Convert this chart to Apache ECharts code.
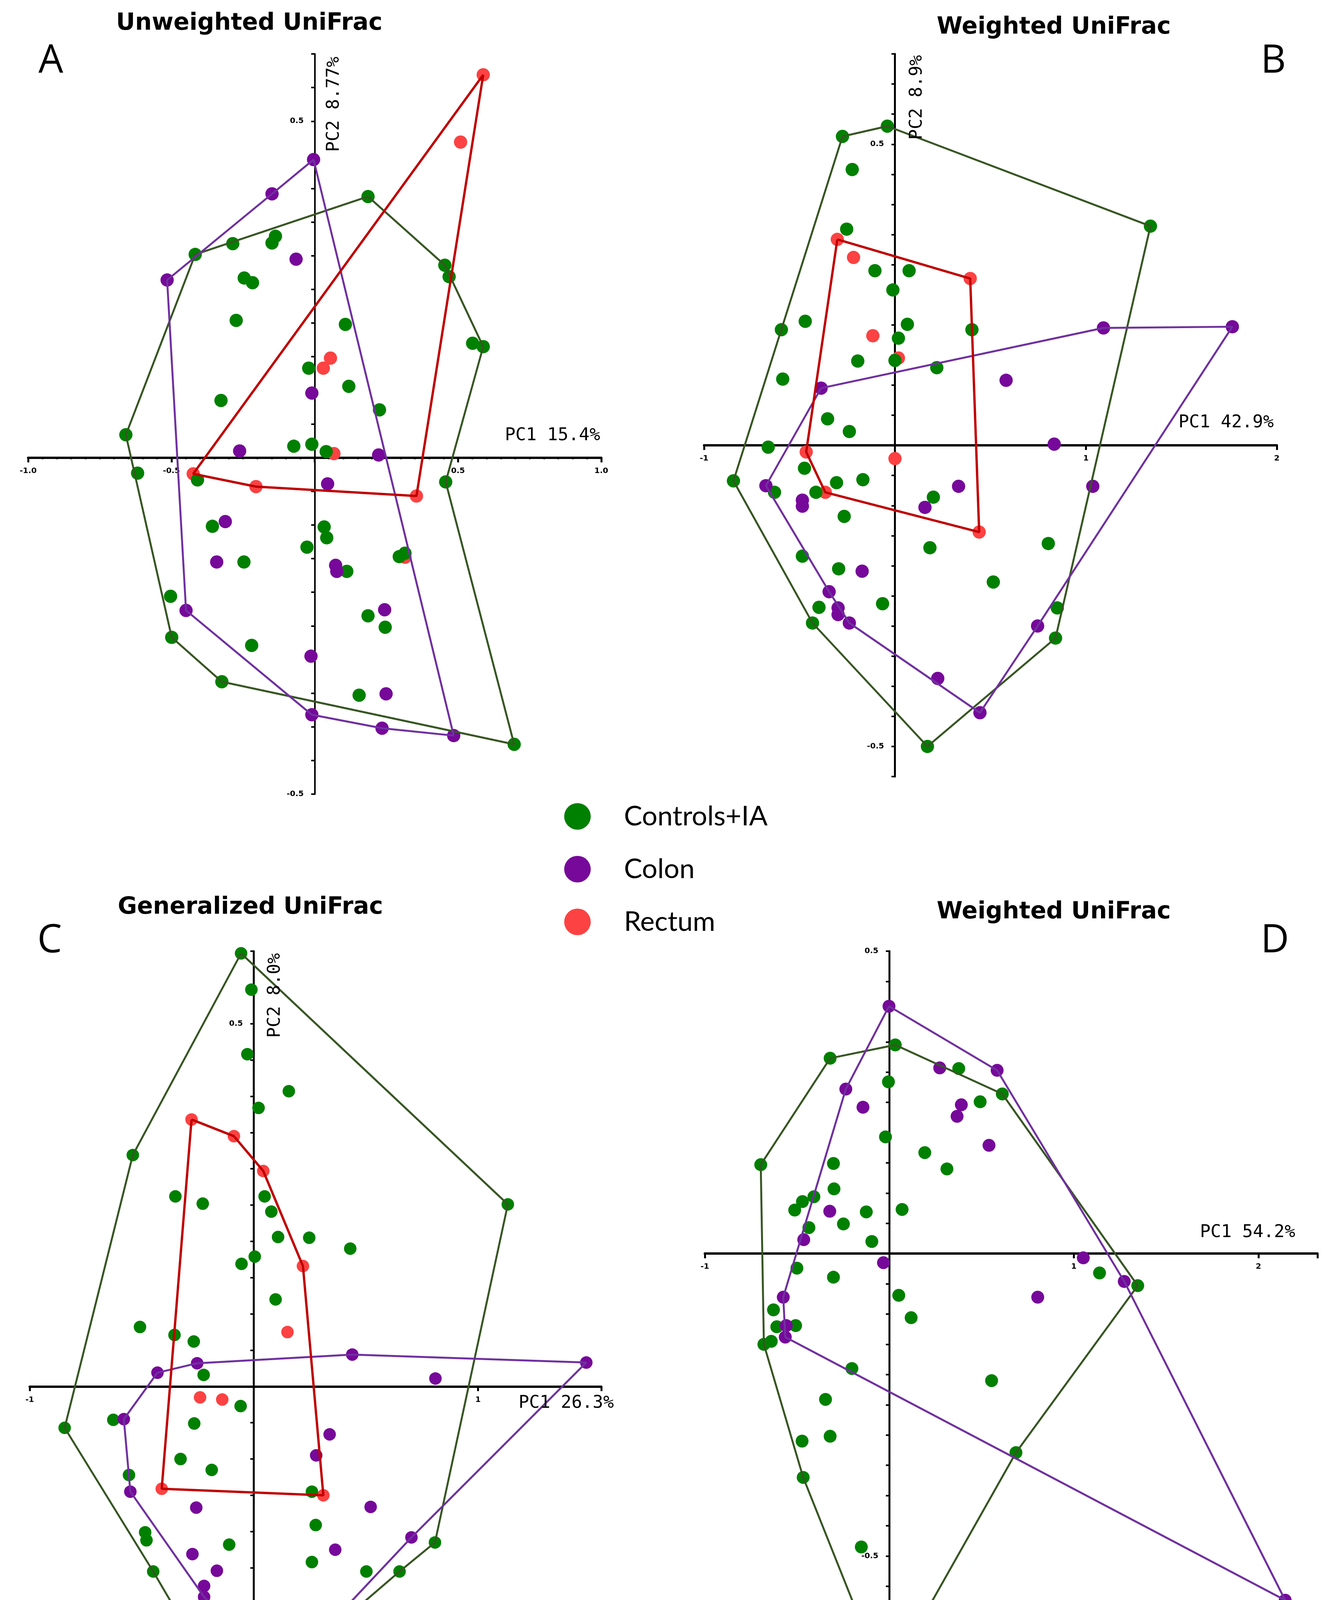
<!DOCTYPE html>
<html><head><meta charset="utf-8">
<script src="https://cdn.jsdelivr.net/npm/echarts@6/dist/echarts.min.js"></script>
<style>html,body{margin:0;padding:0;background:#fff}#chart{width:3422px;height:4547px}</style>
</head><body><div id="chart"></div>
<script>
// ---------- data ----------
const groups = ['Controls+IA', 'Colon', 'Rectum'];
const pointColors = ['#008000', '#76089A', '#FC4242'];
const hullColors = ['#375623', '#7030A0', '#C00000'];

// Panel A : Unweighted UniFrac  (PC1 15.4%, PC2 8.77%)
const A_green = [[0.186,0.388],[0.454,0.286],[0.469,0.269],[0.551,0.170],[0.588,0.165],[-0.417,0.302],[-0.286,0.318],[-0.149,0.319],[-0.137,0.329],[-0.246,0.267],[-0.217,0.260],[-0.274,0.204],[0.107,0.198],[-0.021,0.133],[0.119,0.106],[-0.327,0.085],[0.226,0.071],[-0.659,0.034],[-0.073,0.017],[-0.010,0.020],[0.040,0.009],[-0.618,-0.023],[-0.409,-0.033],[0.457,-0.036],[-0.357,-0.102],[0.033,-0.103],[0.042,-0.119],[-0.027,-0.133],[-0.247,-0.155],[0.295,-0.147],[0.315,-0.142],[0.112,-0.169],[-0.503,-0.206],[-0.499,-0.267],[0.186,-0.235],[0.246,-0.252],[-0.220,-0.279],[-0.324,-0.333],[0.155,-0.353],[0.696,-0.426]];
const A_purple = [[-0.004,0.443],[-0.149,0.392],[-0.515,0.264],[-0.065,0.295],[-0.010,0.096],[-0.262,0.010],[0.223,0.004],[0.045,-0.039],[-0.312,-0.095],[-0.342,-0.155],[0.073,-0.160],[0.077,-0.169],[-0.449,-0.227],[0.244,-0.226],[-0.013,-0.295],[0.249,-0.351],[-0.010,-0.382],[0.235,-0.402],[0.485,-0.413]];
const A_red = [[0.588,0.569],[0.509,0.469],[0.055,0.148],[0.030,0.133],[0.067,0.006],[-0.424,-0.024],[-0.205,-0.043],[0.355,-0.057],[0.315,-0.148]];
const A_greenHull = [0,1,4,23,39,37,33,17,5,0];
const A_purpleHull = [0,1,2,12,16,17,18,0];
const A_redHull = [0,7,6,5,0];

// Panel B : Weighted UniFrac (PC1 42.9%, PC2 8.9%)
const B_green = [[-0.040,0.530],[-0.275,0.513],[-0.224,0.458],[1.338,0.364],[-0.253,0.359],[-0.105,0.290],[0.074,0.290],[-0.011,0.258],[-0.470,0.206],[-0.595,0.192],[0.065,0.201],[0.018,0.178],[0.403,0.192],[-0.195,0.140],[0.000,0.141],[0.219,0.129],[-0.588,0.110],[-0.353,0.044],[-0.239,0.023],[-0.664,-0.003],[-0.846,-0.059],[-0.474,-0.038],[-0.631,-0.078],[-0.414,-0.078],[-0.306,-0.062],[-0.168,-0.057],[0.201,-0.086],[-0.266,-0.118],[0.183,-0.170],[0.803,-0.163],[-0.485,-0.184],[-0.295,-0.205],[0.515,-0.227],[-0.398,-0.269],[-0.065,-0.263],[0.850,-0.270],[-0.432,-0.295],[0.841,-0.320],[0.170,-0.500]];
const B_purple = [[1.092,0.195],[1.767,0.197],[0.582,0.108],[-0.387,0.095],[0.834,0.002],[-0.676,-0.067],[1.036,-0.068],[0.333,-0.068],[-0.485,-0.091],[-0.485,-0.101],[0.157,-0.103],[-0.172,-0.209],[-0.345,-0.243],[-0.298,-0.270],[-0.298,-0.281],[-0.239,-0.295],[0.747,-0.300],[0.224,-0.387],[0.445,-0.444]];
const B_red = [[-0.302,0.342],[-0.217,0.312],[0.394,0.277],[-0.116,0.182],[0.018,0.145],[-0.465,-0.011],[0.000,-0.022],[-0.365,-0.078],[0.441,-0.144]];
const B_greenHull = [0,3,37,38,36,20,1,0];
const B_purpleHull = [3,0,1,16,18,15,12,5,3];
const B_redHull = [0,2,8,7,5,0];

// Panel C : Generalized UniFrac (PC1 26.3%, PC2 8.0%)
const C_green = [[-0.057,0.597],[-0.011,0.547],[-0.029,0.458],[0.156,0.407],[0.021,0.384],[-0.540,0.319],[1.133,0.251],[-0.350,0.262],[-0.228,0.252],[0.048,0.262],[0.078,0.241],[0.108,0.206],[0.247,0.205],[0.430,0.190],[-0.055,0.169],[0.004,0.179],[0.097,0.120],[-0.508,0.082],[-0.354,0.071],[-0.268,0.062],[-0.224,0.016],[-0.059,-0.027],[-0.844,-0.057],[-0.627,-0.046],[-0.266,-0.051],[-0.327,-0.100],[-0.188,-0.115],[-0.557,-0.122],[0.259,-0.145],[0.276,-0.191],[-0.485,-0.201],[-0.479,-0.212],[-0.110,-0.218],[0.259,-0.242],[-0.449,-0.255],[0.502,-0.255],[0.650,-0.255],[0.808,-0.215],[-0.240,-0.316],[-0.082,-0.449]];
const C_purple = [[0.439,0.044],[1.483,0.033],[0.810,0.011],[-0.253,0.032],[-0.430,0.019],[-0.580,-0.045],[0.338,-0.066],[0.278,-0.095],[-0.551,-0.145],[-0.257,-0.167],[0.521,-0.166],[0.363,-0.225],[-0.274,-0.231],[-0.165,-0.254],[-0.222,-0.275],[-0.222,-0.290],[0.703,-0.208],[0.317,-0.335],[0.110,-0.397]];
const C_red = [[-0.278,0.368],[-0.089,0.345],[0.042,0.297],[0.219,0.166],[0.150,0.075],[-0.240,-0.015],[-0.141,-0.018],[-0.411,-0.141],[0.310,-0.150]];
const C_greenHull = [0,6,37,36,39,34,22,5,0];
const C_purpleHull = [4,3,0,1,16,17,18,15,8,5,4];
const C_redHull = [0,1,2,3,8,7,0];

// Panel D : Weighted UniFrac (PC1 54.2%, PC2 8.8%)
const D_green = [[0.032,0.345],[-0.321,0.323],[0.376,0.306],[0.612,0.264],[-0.005,0.284],[0.492,0.251],[-0.021,0.193],[0.192,0.167],[0.312,0.140],[-0.697,0.147],[-0.303,0.149],[-0.300,0.107],[-0.409,0.094],[-0.471,0.086],[-0.513,0.072],[-0.125,0.069],[0.069,0.073],[-0.249,0.049],[-0.436,0.043],[-0.095,0.020],[-0.501,-0.024],[-0.303,-0.039],[1.139,-0.032],[1.346,-0.053],[0.051,-0.069],[0.118,-0.106],[-0.628,-0.093],[-0.610,-0.121],[-0.508,-0.119],[-0.640,-0.145],[-0.680,-0.150],[-0.203,-0.190],[0.554,-0.210],[-0.346,-0.241],[-0.321,-0.302],[-0.473,-0.310],[0.686,-0.329],[-0.467,-0.370],[-0.152,-0.485],[-0.021,-0.711]];
const D_purple = [[-0.002,0.409],[0.584,0.303],[0.273,0.307],[-0.236,0.272],[-0.143,0.242],[0.390,0.246],[0.367,0.227],[0.540,0.179],[-0.323,0.070],[-0.464,0.023],[-0.032,-0.015],[1.051,-0.007],[1.273,-0.046],[0.804,-0.072],[-0.575,-0.072],[-0.559,-0.119],[-0.564,-0.138],[2.145,-0.573]];
const D_red = [];
const D_greenHull = [0,3,23,36,39,37,30,9,1,0];
const D_purpleHull = [0,1,12,17,16,14,3,0];
const D_redHull = [];

const panelTitles = ['Unweighted UniFrac', 'Weighted UniFrac', 'Generalized UniFrac', 'Weighted UniFrac'];
const panelLetters = ['A', 'B', 'C', 'D'];
const pc1Labels = ['PC1 15.4%', 'PC1 42.9%', 'PC1 26.3%', 'PC1 54.2%'];
const pc2Labels = ['PC2 8.77%', 'PC2 8.9%', 'PC2 8.0%', 'PC2 8.8%'];
const xRanges = [[-1, 1], [-1, 2], [-1, 1.55], [-1, 2.32]];
const yRanges = [[-0.5, 0.6], [-0.55, 0.65], [-0.5, 0.6], [-0.8, 0.5]];

// ---------- layout ----------
const grids = [
  {left: 72,   top: 138,  width: 1467, height: 1895},
  {left: 1802, top: 138,  width: 1466, height: 1850},
  {left: 76,   top: 2435, width: 1463, height: 2043},
  {left: 1804, top: 2435, width: 1568, height: 2013}
];

const panels = [
  {g: A_green, p: A_purple, r: A_red, gh: A_greenHull, ph: A_purpleHull, rh: A_redHull, size: 34},
  {g: B_green, p: B_purple, r: B_red, gh: B_greenHull, ph: B_purpleHull, rh: B_redHull, size: 34},
  {g: C_green, p: C_purple, r: C_red, gh: C_greenHull, ph: C_purpleHull, rh: C_redHull, size: 32},
  {g: D_green, p: D_purple, r: D_red, gh: D_greenHull, ph: D_purpleHull, rh: D_redHull, size: 33}
];

const labelFont = {color: '#000', fontSize: 20, fontWeight: 'bold', fontFamily: 'DejaVu Sans'};

// axes cross at the origin: shift each axis from the grid edge to the other axis's zero
const xAxes = grids.map((g, i) => {
  const yr = yRanges[i];
  const ax = {
    type: 'value', gridIndex: i, min: xRanges[i][0], max: xRanges[i][1],
    position: 'bottom',
    offset: -g.height * (0 - yr[0]) / (yr[1] - yr[0]),
    interval: i === 0 ? 0.5 : 1,
    axisLine: {onZero: false, lineStyle: {color: '#000', width: 6}},
    axisTick: {show: true, length: 12, lineStyle: {color: '#000', width: 5}},
    splitLine: {show: false},
    axisLabel: Object.assign({
      margin: 24,
      formatter: v => {
        if (Math.abs(v) < 1e-9) return '';
        if (i === 0) return v.toFixed(1);
        return Math.abs(v - Math.round(v)) < 1e-9 ? String(Math.round(v)) : '';
      }
    }, labelFont)
  };
  if (i === 0) ax.minorTick = {show: true, splitNumber: 10, length: 4, lineStyle: {color: '#000', width: 4}};
  return ax;
});

const yAxes = grids.map((g, i) => {
  const xr = xRanges[i];
  return {
    type: 'value', gridIndex: i, min: yRanges[i][0], max: yRanges[i][1], interval: 0.05,
    position: 'left',
    offset: -g.width * (0 - xr[0]) / (xr[1] - xr[0]),
    axisLine: {onZero: false, lineStyle: {color: '#000', width: i === 0 ? 4 : 5}},
    axisTick: {show: true, length: 9, lineStyle: {color: '#000', width: 4}},
    splitLine: {show: false},
    axisLabel: Object.assign({
      margin: 28,
      formatter: v => Math.abs(Math.abs(v) - 0.5) < 1e-6 ? v.toFixed(1) : ''
    }, labelFont)
  };
});

const series = [];
panels.forEach((pn, i) => {
  const sets = [pn.g, pn.p, pn.r];
  const hulls = [pn.gh, pn.ph, pn.rh];
  [2, 0, 1].forEach(k => {
    if (!sets[k].length) return;
    series.push({
      type: 'scatter', name: groups[k], xAxisIndex: i, yAxisIndex: i,
      data: sets[k], symbol: 'circle', symbolSize: pn.size, z: 2,
      itemStyle: {color: pointColors[k], opacity: 1}
    });
  });
  [0, 1, 2].forEach(k => {
    if (!hulls[k].length) return;
    series.push({
      type: 'line', name: groups[k] + ' hull ' + panelLetters[i], xAxisIndex: i, yAxisIndex: i,
      data: hulls[k].map(idx => sets[k][idx]),
      symbol: 'none', showSymbol: false, z: 3, silent: true,
      lineStyle: {color: hullColors[k], width: k === 2 ? 6 : 5}
    });
  });
});

// ---------- texts ----------
const titlePos = [[638, 60], [2697, 70], [641, 2323], [2697, 2335]];
const letterPos = [[130, 158], [3259, 158], [127, 2410], [3263, 2410]];
const pc1Pos = [[1536, 1115], [3260, 1082], [1571, 3592], [3315, 3155]];
const pc2Pos = [[855, 145], [2347, 141], [704, 2440], [2342, 4213]];

const graphic = [];
panelTitles.forEach((t, i) => {
  graphic.push({type: 'text', x: titlePos[i][0], y: titlePos[i][1], z: 10,
    style: {text: t, font: 'bold 60px "DejaVu Sans"', fill: '#000', align: 'center', verticalAlign: 'middle'}});
  graphic.push({type: 'text', x: letterPos[i][0], y: letterPos[i][1], z: 10,
    style: {text: panelLetters[i], font: '100px "Open Sans"', fill: '#000', align: 'center', verticalAlign: 'middle'}});
  graphic.push({type: 'text', x: pc1Pos[i][0], y: pc1Pos[i][1], z: 10,
    style: {text: pc1Labels[i], font: '45px "DejaVu Sans Mono"', fill: '#000', align: 'right', verticalAlign: 'middle'}});
  graphic.push({type: 'text', x: pc2Pos[i][0], y: pc2Pos[i][1], rotation: Math.PI / 2, z: 10,
    style: {text: pc2Labels[i], font: '45px "DejaVu Sans Mono"', fill: '#000', align: 'right', verticalAlign: 'middle'}});
});

const chart = echarts.init(document.getElementById('chart'), null, {renderer: 'canvas', width: 3422, height: 4547});
chart.setOption({
  animation: false,
  backgroundColor: '#ffffff',
  grid: grids.map(g => Object.assign({containLabel: false}, g)),
  xAxis: xAxes,
  yAxis: yAxes,
  legend: {
    data: groups, orient: 'vertical', left: 1439, top: 2050,
    itemWidth: 68, itemHeight: 68, itemGap: 65, icon: 'circle',
    selectedMode: false,
    textStyle: {fontFamily: 'Lato', fontSize: 70, color: '#000', padding: [0, 0, 0, 80]}
  },
  graphic: graphic,
  series: series
});
</script></body></html>
